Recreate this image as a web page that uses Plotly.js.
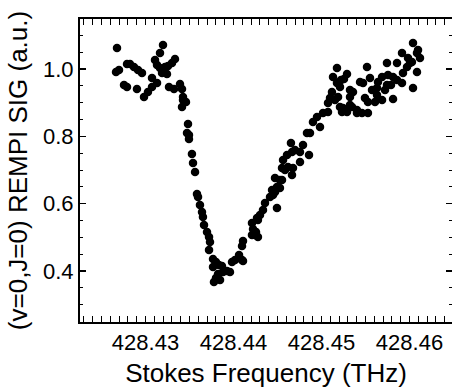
<!DOCTYPE html>
<html>
<head>
<meta charset="utf-8">
<script src="https://cdn.plot.ly/plotly-3.0.1.min.js"></script>
<style>html,body{margin:0;padding:0;background:#fff;}#chart{width:452px;height:391px;}</style>
</head>
<body>
<div id="chart"></div>
<script>
// Stokes frequency (THz)
const freq = [
428.42676,428.42665,428.42699,428.42790,428.42824,428.42869,428.42915,428.42960,428.42756,428.42790,
428.42903,428.42983,428.43028,428.43074,428.43074,428.43131,428.43199,428.43165,428.43108,428.43131,
428.43165,428.43199,428.43222,428.43256,428.43301,428.43335,428.43188,428.43244,428.43267,428.43324,
428.43392,428.43415,428.43426,428.43415,428.43426,428.43460,428.43483,428.43472,428.43494,428.43494,
428.43528,428.43540,428.43563,428.43585,428.43597,428.43619,428.43642,428.43653,428.43665,428.43699,
428.43722,428.43733,428.43722,428.43767,428.43801,428.43767,428.43835,428.43869,428.43881,428.43824,
428.43801,428.43778,428.43847,428.43926,428.43960,428.43983,428.44017,428.44097,428.44063,428.44097,
428.44108,428.44108,428.44210,428.44222,428.44267,428.44244,428.44278,428.44210,428.44256,428.44278,
428.44301,428.44335,428.44358,428.44415,428.44438,428.44494,428.44528,428.44494,428.44449,428.44472,
428.44472,428.44528,428.44551,428.44585,428.44665,428.44551,428.44608,428.44665,428.44756,428.44858,
428.44563,428.44619,428.44676,428.44756,428.44653,428.44699,428.44790,428.44835,428.44869,428.44903,
428.44949,428.44983,428.45017,428.45074,428.45074,428.45119,428.45188,428.45210,428.45233,428.45290,
428.45347,428.45324,428.45403,428.45176,428.45131,428.45222,428.45290,428.45256,428.45097,428.45153,
428.45244,428.45324,428.45358,428.45324,428.45403,428.45438,428.45472,428.45517,428.45551,428.45494,
428.45528,428.45574,428.45631,428.45642,428.45688,428.45631,428.45608,428.45688,428.45722,428.45744,
428.45744,428.45756,428.45813,428.45813,428.45858,428.45858,428.45915,428.45926,428.45972,428.45983,
428.46028,428.46040,428.46085,428.46097,428.46119,428.46085,428.46040,428.45528,428.45210,428.45176,
428.45460,428.45790,428.45915,428.46006
];
// (v=0,J=0) REMPI signal (a.u.)
const signal = [
1.0624,0.9911,0.9970,1.0148,1.0148,1.0059,0.9970,0.9881,0.9525,0.9465,
0.9406,0.9168,0.9317,0.9465,0.9733,0.9584,1.0713,1.0475,1.0267,1.0119,
1.0030,0.9911,1.0059,1.0089,1.0178,1.0297,0.9881,0.9851,0.9465,0.9406,
0.9554,0.9406,0.9168,0.8871,0.9079,0.9020,0.8367,0.8099,0.8040,0.7921,
0.7476,0.7208,0.6941,0.6288,0.6198,0.5961,0.5753,0.5604,0.5367,0.5159,
0.5010,0.4862,0.4624,0.4357,0.4268,0.4119,0.4179,0.4149,0.3971,0.3911,
0.3793,0.3674,0.3733,0.4001,0.3971,0.4268,0.4327,0.4327,0.4476,0.4743,
0.4892,0.4298,0.5426,0.5248,0.5575,0.5070,0.5010,0.5070,0.5159,0.5515,
0.5664,0.5812,0.6020,0.6198,0.6406,0.6495,0.6703,0.5872,0.6258,0.6347,
0.6763,0.6466,0.7060,0.7000,0.6852,0.6703,0.7446,0.7535,0.7535,0.7446,
0.7297,0.7089,0.7060,0.7238,0.7802,0.7594,0.7743,0.8099,0.8099,0.8426,
0.8574,0.8277,0.8693,0.8723,0.8990,0.9317,0.9168,0.8871,0.8723,0.8723,
0.8871,0.9168,0.8693,1.0030,0.9762,0.9673,0.9851,0.9703,0.9139,0.9079,
0.8842,0.9376,0.9317,0.8931,0.8782,0.9614,0.9584,1.0059,0.9733,0.9139,
0.9020,0.9376,0.9436,0.9614,0.9762,0.9228,0.9020,0.9079,0.9376,0.9525,
1.0178,0.9822,0.9109,0.9762,1.0178,0.9673,1.0475,0.9881,1.0059,1.0327,
1.0208,1.0772,1.0475,1.0564,1.0327,0.9911,0.9436,0.8693,0.9465,0.9584,
0.8693,0.9525,0.9584,1.0178
];
const xTickVals = [428.43, 428.44, 428.45, 428.46];
const xTickText = ["428.43", "428.44", "428.45", "428.46"];
const yTickVals = [0.4, 0.6, 0.8, 1.0];
const yTickText = ["0.4", "0.6", "0.8", "1.0"];

const font = "Liberation Sans, Arial, sans-serif";
const xr = [428.422557, 428.464830];
const yr = [0.24859, 1.1485];

const data = [
  {x: freq, y: signal, type: "scatter", mode: "markers",
   marker: {color: "#000", size: 8.5, line: {width: 0}}, hoverinfo: "skip"},
  {x: [], y: [], type: "scatter", mode: "markers", yaxis: "y2", showlegend: false}
];

const layout = {
  width: 452, height: 391,
  margin: {l: 80, r: 0, t: 19, b: 69, pad: 0},
  paper_bgcolor: "#fff", plot_bgcolor: "#fff",
  showlegend: false,
  font: {family: font, color: "#000"},
  xaxis: {
    range: xr, autorange: false,
    tickmode: "array", tickvals: xTickVals, ticktext: xTickText,
    ticks: "inside", ticklen: 6, tickwidth: 1.5, tickcolor: "#000",
    minor: {dtick: 0.001, tick0: 428.43, ticks: "inside", ticklen: 3, tickwidth: 1, tickcolor: "#000", showgrid: false},
    showline: true, linecolor: "#000", linewidth: 2, mirror: "allticks",
    showgrid: false, zeroline: false,
    tickfont: {size: 22, family: font, color: "#000"},
    title: {text: "Stokes Frequency (THz)", font: {size: 26, family: font, color: "#000"}, standoff: 9}
  },
  yaxis: {
    range: yr, autorange: false,
    tickmode: "array", tickvals: yTickVals, ticktext: yTickText,
    ticks: "inside", ticklen: 6, tickwidth: 1.5, tickcolor: "#000",
    minor: {dtick: 0.05, tick0: 0, ticks: "inside", ticklen: 3, tickwidth: 1, tickcolor: "#000", showgrid: false},
    showline: true, linecolor: "#000", linewidth: 2, mirror: false,
    showgrid: false, zeroline: false,
    tickfont: {size: 22, family: font, color: "#000"},
    title: {text: "(v=0,J=0) REMPI SIG (a.u.)", font: {size: 26, family: font, color: "#000"}, standoff: 8}
  },
  yaxis2: {
    overlaying: "y", side: "right", anchor: "x",
    range: yr, autorange: false,
    tickmode: "array", tickvals: yTickVals, showticklabels: false,
    ticks: "inside", ticklen: 6, tickwidth: 1.5, tickcolor: "#000",
    minor: {dtick: 0.05, tick0: 0, ticks: "inside", ticklen: 3, tickwidth: 1, tickcolor: "#000", showgrid: false},
    showline: false, showgrid: false, zeroline: false
  }
};

Plotly.newPlot("chart", data, layout, {displayModeBar: false, staticPlot: true});
</script>
</body>
</html>
